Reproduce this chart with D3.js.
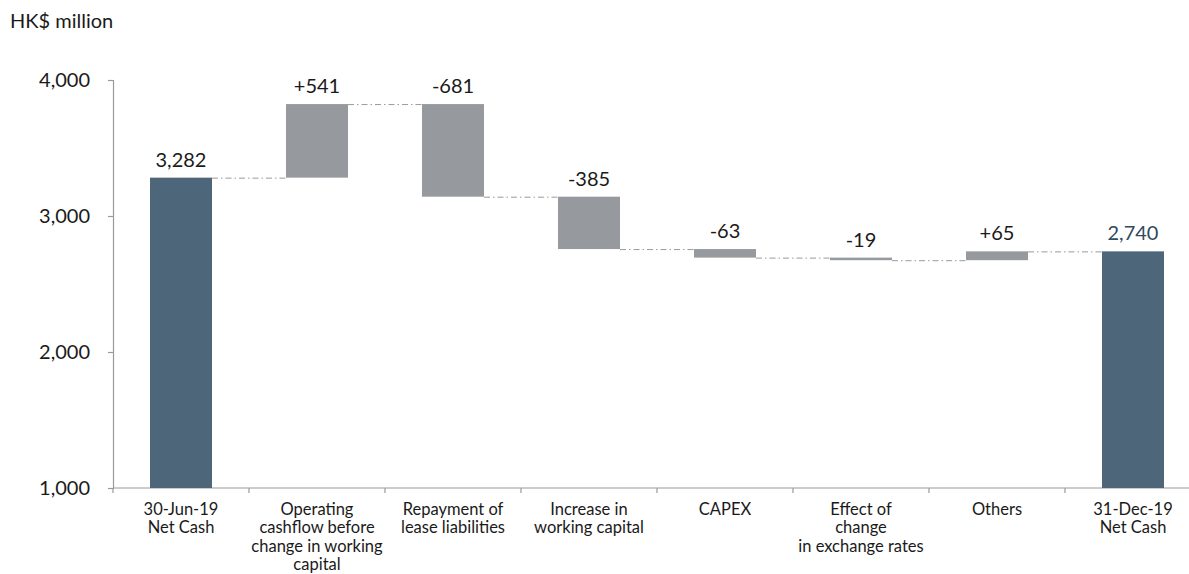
<!DOCTYPE html>
<html>
<head>
<meta charset="utf-8">
<script src="https://cdn.jsdelivr.net/npm/d3@7"></script>
<style>
  html, body { margin: 0; padding: 0; background: #fff; }
  svg { display: block; font-family: "Lato", "Open Sans", sans-serif; }
</style>
</head>
<body>
<svg id="chart" width="1189" height="574"></svg>
<script>
const categories = [
  ["30-Jun-19", "Net Cash"],
  ["Operating", "cashflow before", "change in working", "capital"],
  ["Repayment of", "lease liabilities"],
  ["Increase in", "working capital"],
  ["CAPEX"],
  ["Effect of", "change", "in exchange rates"],
  ["Others"],
  ["31-Dec-19", "Net Cash"]
];
const values = [3282, 541, -681, -385, -63, -19, 65, 2740];
const types = ["total", "delta", "delta", "delta", "delta", "delta", "delta", "total"];
const valueLabels = ["3,282", "+541", "-681", "-385", "-63", "-19", "+65", "2,740"];
const yTicks = [1000, 2000, 3000, 4000];
const yUnit = "HK$ million";

const svg = d3.select("#chart");
const mLeft = 113, mRight = 1201, mTop = 80, mBottom = 488;

const keys = categories.map((c, i) => i);
const x = d3.scaleBand().domain(keys).range([mLeft, mRight]).padding(0);
const y = d3.scaleLinear().domain([1000, 4000]).range([mBottom, mTop]);
const barW = 62;

// compute waterfall
let running = 0;
const bars = values.map((v, i) => {
  let y0, y1;
  if (types[i] === "total") { y0 = 1000; y1 = v; running = v; }
  else { y0 = running; y1 = running + v; running = y1; }
  return { i, v, lo: Math.min(y0, y1), hi: Math.max(y0, y1), end: y1, type: types[i] };
});

// unit label
svg.append("text").attr("x", 10).attr("y", 28)
  .attr("font-size", 20).attr("fill", "#1a1a1a").text(yUnit);

// y axis
const yAxis = svg.append("g").attr("transform", `translate(${mLeft},0)`)
  .call(d3.axisLeft(y).tickValues(yTicks).tickSize(5).tickPadding(18)
    .tickFormat(d3.format(",")));
yAxis.select(".domain").attr("stroke", "#9a9a9a").attr("stroke-width", 1.2);
yAxis.selectAll(".tick line").attr("stroke", "#9a9a9a").attr("stroke-width", 1.2);
yAxis.selectAll(".tick text").attr("font-size", 20).attr("fill", "#1a1a1a")
  .attr("font-family", "Lato, sans-serif");

// x axis line
svg.append("line").attr("x1", mLeft).attr("x2", 1189).attr("y1", mBottom).attr("y2", mBottom)
  .attr("stroke", "#9a9a9a").attr("stroke-width", 1.2);
svg.append("g").selectAll("line").data(keys.concat([keys.length])).join("line")
  .attr("x1", d => mLeft + d * x.bandwidth()).attr("x2", d => mLeft + d * x.bandwidth())
  .attr("y1", mBottom).attr("y2", mBottom + 5)
  .attr("stroke", "#9a9a9a").attr("stroke-width", 1.2);

// connectors
const conn = svg.append("g");
bars.slice(0, -1).forEach((b) => {
  const cx = x(b.i) + x.bandwidth() / 2;
  const nx = x(b.i + 1) + x.bandwidth() / 2;
  conn.append("line")
    .attr("x1", cx + barW / 2).attr("x2", nx - barW / 2)
    .attr("y1", y(b.end) + 0.5).attr("y2", y(b.end) + 0.5)
    .attr("stroke", "#9a9a9a").attr("stroke-width", 1)
    .attr("stroke-dasharray", "6,3,1.5,3");
});

// bars
svg.append("g").selectAll("rect").data(bars).join("rect")
  .attr("x", d => x(d.i) + x.bandwidth() / 2 - barW / 2)
  .attr("width", barW)
  .attr("y", d => y(d.hi))
  .attr("height", d => Math.max(2, y(d.lo) - y(d.hi)))
  .attr("fill", d => d.type === "total" ? "#4d6679" : "#96999d");

// value labels
svg.append("g").selectAll("text").data(bars).join("text")
  .attr("x", d => x(d.i) + x.bandwidth() / 2)
  .attr("y", d => y(d.hi) - 11)
  .attr("text-anchor", "middle")
  .attr("font-size", 20)
  .attr("fill", d => d.i === bars.length - 1 ? "#33495c" : "#1a1a1a")
  .text(d => valueLabels[d.i]);

// category labels
const cat = svg.append("g").selectAll("text").data(categories).join("text")
  .attr("x", (d, i) => x(i) + x.bandwidth() / 2)
  .attr("y", 515)
  .attr("text-anchor", "middle")
  .attr("font-size", 16.5)
  .attr("fill", "#1a1a1a");
cat.selectAll("tspan").data(d => d).join("tspan")
  .attr("x", function() { return d3.select(this.parentNode).attr("x"); })
  .attr("dy", (d, j) => j === 0 ? 0 : 18.3)
  .text(d => d);
</script>
</body>
</html>
